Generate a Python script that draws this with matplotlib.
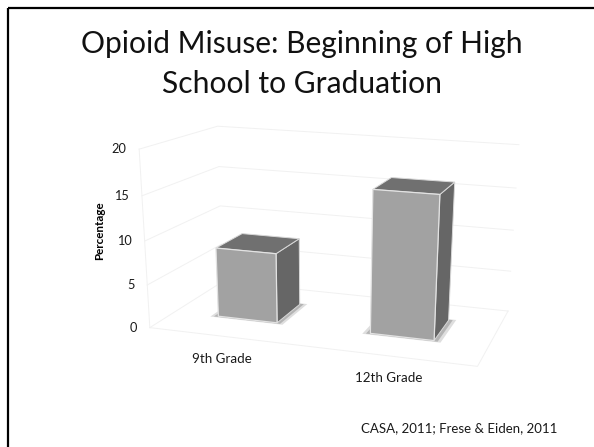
import numpy as np
import matplotlib
matplotlib.use('Agg')
import matplotlib.pyplot as plt
from matplotlib.patches import Polygon, Rectangle

plt.rcParams['font.family'] = ['Lato', 'DejaVu Sans']

categories = ['9th Grade', '12th Grade']
values = [8.2, 16.3]
y_ticks = [0, 5, 10, 15, 20]

# pixel positions of the room corners (u, v, z) -> (x, y), used to fit the camera
room = [((0, 0, 0), (148, 323)), ((1, 0, 0), (478, 367)), ((1, 1, 0), (508, 310)), ((0, 1, 0), (224, 286)),
        ((0, 0, 20), (139, 150)), ((0, 1, 20), (218, 125)), ((1, 1, 20), (517, 142)), ((1, 0, 20), (490, 177))]


def fit_camera(pairs):
    rows = []
    rhs = []
    for (u, v, z), (x, y) in pairs:
        rows.append([u, v, z, 1, 0, 0, 0, 0, -x * u, -x * v, -x * z])
        rows.append([0, 0, 0, 0, u, v, z, 1, -y * u, -y * v, -y * z])
        rhs += [x, y]
    sol = np.linalg.lstsq(np.array(rows, float), np.array(rhs, float), rcond=None)[0]
    return np.append(sol, 1).reshape(3, 4)


cam = fit_camera(room)


def project(u, v, z):
    p = cam @ np.array([u, v, z, 1.0])
    return p[0] / p[2], p[1] / p[2]


fig = plt.figure(figsize=(5.94, 4.47), dpi=100)
ax = fig.add_axes([0, 0, 1, 1])
ax.set_xlim(0, 594)
ax.set_ylim(447, 0)
ax.axis('off')

# slide border
ax.add_patch(Rectangle((8, 8), 640, 500, fill=False, ec='black', lw=1.6))

ax.text(302, 53, 'Opioid Misuse: Beginning of High', fontsize=21.6, ha='center', va='baseline', color='#111111')
ax.text(302, 93, 'School to Graduation', fontsize=21.6, ha='center', va='baseline', color='#111111')
ax.text(557, 428, 'CASA, 2011; Frese & Eiden, 2011', fontsize=9.5, ha='right', va='center', color='#1a1a1a')

# room grid
grid_c = '#f1f1f1'
for t in y_ticks:
    pts = [project(0, 0, t), project(0, 1, t), project(1, 1, t)]
    ax.plot(*zip(*pts), color=grid_c, lw=0.7, zorder=1)
    x, y = project(0, 0, t)
    ax.text(x - 13, y, str(t), fontsize=9.2, ha='right', va='center', color='#1a1a1a')
ax.plot(*zip(project(0, 0, 0), project(1, 0, 0), project(1, 1, 0)), color=grid_c, lw=0.7, zorder=1)
ax.plot(*zip(project(0, 0, 0), project(0, 0, 20)), color=grid_c, lw=0.7, zorder=1)

ax.text(100, 231, 'Percentage', fontsize=8.4, fontweight='bold', rotation=90, ha='center', va='center')

half_w = 0.098
depth = (0.32, 0.7)
for i, (cat, val) in enumerate(zip(categories, values)):
    c = 0.245 + 0.495 * i
    u0, u1 = c - half_w, c + half_w
    v0, v1 = depth
    # soft shadow on the floor
    for grow, col in [(0.022, '#dedede'), (0.012, '#b4b4b4')]:
        ax.add_patch(Polygon([project(u0 - grow, v0 - grow, 0), project(u1 + grow, v0 - grow, 0),
                              project(u1 + grow, v1 + grow, 0), project(u0 - grow, v1 + grow, 0)],
                             fc=col, ec='none', zorder=2))
    front = [project(u0, v0, 0), project(u1, v0, 0), project(u1, v0, val), project(u0, v0, val)]
    side = [project(u1, v0, 0), project(u1, v1, 0), project(u1, v1, val), project(u1, v0, val)]
    top = [project(u0, v0, val), project(u1, v0, val), project(u1, v1, val), project(u0, v1, val)]
    ax.add_patch(Polygon(side, fc='#666666', ec='#d8d8d8', lw=0.7, zorder=3))
    ax.add_patch(Polygon(top, fc='#707070', ec='#d8d8d8', lw=0.7, zorder=3))
    ax.add_patch(Polygon(front, fc='#a2a2a2', ec='#e2e2e2', lw=0.9, zorder=4))
    x, y = project(c, 0, 0)
    ax.text(x - 3 + 5 * i, y + 22, cat, fontsize=9.6, ha='center', va='center', color='#1a1a1a')

fig.savefig('out.png', dpi=100)
